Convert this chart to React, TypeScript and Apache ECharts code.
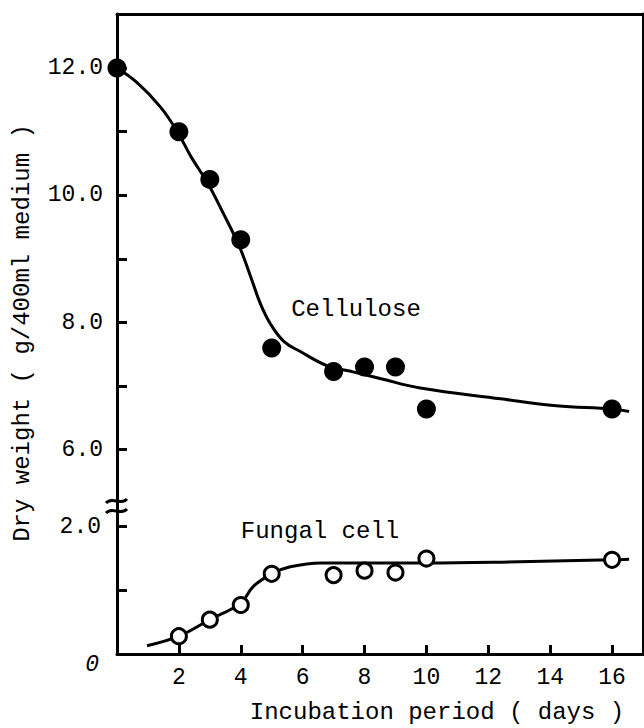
import React, { useEffect, useRef } from "react";
import * as echarts from "echarts";

// Measured points
const cellDays = [0, 2, 3, 4, 5, 7, 8, 9, 10, 16];
const celluloseValues = [12.0, 11.0, 10.25, 9.3, 7.6, 7.23, 7.3, 7.3, 6.64, 6.64];
const fungalDays = [2, 3, 4, 5, 7, 8, 9, 10, 16];
const fungalValues = [0.28, 0.54, 0.77, 1.26, 1.24, 1.31, 1.28, 1.5, 1.48];

// Fitted curves
const cellCurveDays = [0, 0.65, 1.4, 1.95, 2.4, 2.92, 3.4, 3.95, 4.32, 4.64, 4.97, 5.4, 5.94, 6.8, 7.66, 8.5, 9.8, 12.4, 14.2, 16, 16.55];
const cellCurveValues = [12.0, 11.77, 11.39, 11.0, 10.6, 10.2, 9.75, 9.2, 8.72, 8.29, 7.97, 7.7, 7.54, 7.32, 7.22, 7.12, 6.97, 6.8, 6.69, 6.64, 6.6];
const fungalCurveDays = [0.97, 2, 3, 4, 4.4, 5, 5.6, 6.6, 8, 10, 13, 16, 16.55];
const fungalCurveValues = [0.13, 0.28, 0.54, 0.8, 1.06, 1.26, 1.37, 1.43, 1.43, 1.43, 1.45, 1.48, 1.49];

// Axis ticks / labels
const xTicks = [2, 4, 6, 8, 10, 12, 14, 16];
const upperTicks = [6, 7, 8, 9, 10, 11, 12];
const upperLabels = [6, 8, 10, 12];
const lowerTicks = [1, 2];
const lowerLabels = [0, 2];

const FONT = "'Liberation Mono', 'DejaVu Sans Mono', monospace";
const INK = "#000";

const zip = (xs: number[], ys: number[]) => xs.map((x, i) => [x, ys[i]]);

export default function App() {
  const ref = useRef<HTMLDivElement>(null);
  useEffect(() => {
    if (!ref.current) return;
    const chart = echarts.init(ref.current, undefined, { renderer: "svg" });
    const lineStyle = { color: INK, width: 3 };
    const labelStyle = { color: INK, fontFamily: FONT, fontSize: 23 };
    const option: any = {
      animation: false,
      backgroundColor: "#fff",
      grid: [
        { left: 117, right: 1, top: 14, height: 493 },
        { left: 117, right: 1, top: 507, height: 147 },
      ],
      xAxis: [
        {
          gridIndex: 0, type: "value", min: 0, max: 17, position: "top",
          axisLine: { show: true, lineStyle }, axisTick: { show: false },
          axisLabel: { show: false }, splitLine: { show: false },
        },
        {
          gridIndex: 1, type: "value", min: 0, max: 17, position: "bottom",
          axisLine: { show: true, lineStyle },
          axisTick: { show: true, inside: true, length: 9, lineStyle: { color: INK, width: 3 }, customValues: xTicks },
          axisLabel: { ...labelStyle, margin: 12, customValues: xTicks },
          splitLine: { show: false },
        },
      ],
      yAxis: [
        {
          gridIndex: 0, type: "value", min: 5.1, max: 12.85, position: "left",
          axisLine: { show: true, lineStyle },
          axisTick: { show: true, inside: true, length: 10, lineStyle: { color: INK, width: 3 }, customValues: upperTicks },
          axisLabel: { ...labelStyle, margin: 14, customValues: upperLabels, formatter: (v: number) => v.toFixed(1) },
          splitLine: { show: false },
        },
        {
          gridIndex: 1, type: "value", min: 0, max: 2.31, position: "left",
          axisLine: { show: true, lineStyle },
          axisTick: { show: true, inside: true, length: 10, lineStyle: { color: INK, width: 3 }, customValues: lowerTicks },
          axisLabel: {
            ...labelStyle, margin: 16, customValues: lowerLabels,
            formatter: (v: number) => (v === 0 ? "{z|0}" : v.toFixed(1)),
            rich: { z: { fontFamily: FONT, fontSize: 23, color: INK, fontStyle: "italic", padding: [22, 2, 0, 0] } },
          },
          splitLine: { show: false },
        },
        {
          gridIndex: 0, type: "value", min: 5.1, max: 12.85, position: "right",
          axisLine: { show: true, lineStyle }, axisTick: { show: false },
          axisLabel: { show: false }, splitLine: { show: false },
        },
        {
          gridIndex: 1, type: "value", min: 0, max: 2.31, position: "right",
          axisLine: { show: true, lineStyle }, axisTick: { show: false },
          axisLabel: { show: false }, splitLine: { show: false },
        },
      ],
      series: [
        {
          name: "Cellulose curve", type: "line", xAxisIndex: 0, yAxisIndex: 0,
          data: zip(cellCurveDays, cellCurveValues), smooth: 0.4, showSymbol: false,
          lineStyle: { color: INK, width: 3 }, z: 2, silent: true,
        },
        {
          name: "Cellulose", type: "scatter", xAxisIndex: 0, yAxisIndex: 0,
          data: zip(cellDays, celluloseValues), symbol: "circle", symbolSize: 19,
          itemStyle: { color: INK, opacity: 1 }, z: 3,
        },
        {
          name: "Fungal cell curve", type: "line", xAxisIndex: 1, yAxisIndex: 1,
          data: zip(fungalCurveDays, fungalCurveValues), smooth: 0.4, showSymbol: false,
          lineStyle: { color: INK, width: 3 }, z: 2, silent: true,
        },
        {
          name: "Fungal cell", type: "scatter", xAxisIndex: 1, yAxisIndex: 1,
          data: zip(fungalDays, fungalValues), symbol: "circle", symbolSize: 15,
          itemStyle: { color: "#fff", borderColor: INK, borderWidth: 3, opacity: 1 }, z: 3,
        },
      ],
      graphic: [
        {
          type: "text", x: 22, y: 333, rotation: Math.PI / 2,
          style: { text: "Dry weight ( g/400ml medium )", fill: INK, font: `24px ${FONT}`, align: "center", verticalAlign: "middle", textAlign: "center", textVerticalAlign: "middle" },
        },
        {
          type: "text", x: 437, y: 712,
          style: { text: "Incubation period ( days )", fill: INK, font: `24px ${FONT}`, align: "center", verticalAlign: "middle", textAlign: "center", textVerticalAlign: "middle" },
        },
        {
          type: "text", x: 356, y: 309,
          style: { text: "Cellulose", fill: INK, font: `24px ${FONT}`, align: "center", verticalAlign: "middle", textAlign: "center", textVerticalAlign: "middle" },
        },
        {
          type: "text", x: 320, y: 531,
          style: { text: "Fungal cell", fill: INK, font: `24px ${FONT}`, align: "center", verticalAlign: "middle", textAlign: "center", textVerticalAlign: "middle" },
        },
        {
          type: "bezierCurve",
          shape: { x1: 106, y1: 503, cpx1: 112, cpy1: 496, cpx2: 121, cpy2: 506, x2: 127, y2: 499 },
          style: { stroke: INK, lineWidth: 3, fill: "none" },
        },
        {
          type: "bezierCurve",
          shape: { x1: 106, y1: 513, cpx1: 112, cpy1: 506, cpx2: 121, cpy2: 516, x2: 127, y2: 509 },
          style: { stroke: INK, lineWidth: 3, fill: "none" },
        },
      ],
    };
    chart.setOption(option);
    return () => chart.dispose();
  }, []);
  return (
    <div
      ref={ref}
      style={{ position: "fixed", left: 0, top: 0, width: 644, height: 728, background: "#fff" }}
    />
  );
}
